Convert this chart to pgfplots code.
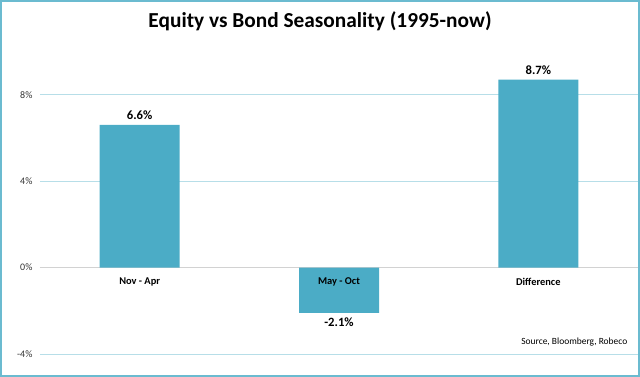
\documentclass[border=0pt]{standalone}
\usepackage{pgfplots}
\pgfplotsset{compat=1.18}
\usepackage{fontspec}
\setmainfont{Carlito}
\definecolor{barc}{HTML}{4BACC6}
\definecolor{gridc}{HTML}{B7DEE8}
\definecolor{framec}{HTML}{6BBBD0}
\begin{document}
\begin{tikzpicture}
\useasboundingbox (0pt,0pt) rectangle (480pt,282.75pt);
\draw[framec,line width=1.2pt] (0.6pt,0.6pt) rectangle (479.4pt,282.15pt);
\node[font=\bfseries\fontsize{16}{18}\selectfont] at (240pt,266.5pt) {Equity vs Bond Seasonality (1995-now)};
\begin{axis}[
  at={(30pt,17.25pt)}, anchor=south west,
  scale only axis, width=448.5pt, height=226.9pt,
  ymin=-4, ymax=10, xmin=-0.5, xmax=2.5,
  ybar, bar width=60pt,
  axis x line=middle, axis y line=left,
  x axis line style={draw=gray!35, line width=0.6pt, -},
  y axis line style={draw=none},
  xtick={0,1,2},
  xticklabels={},
  major x tick style={draw=none},
  extra x ticks={-0.5,0.5,1.5,2.5},
  extra x tick labels={},
  extra x tick style={tick style={draw=gray!40,line width=0.6pt}, major tick length=3pt, tick align=outside, grid=none},
  ytick={-4,0,4,8},
  yticklabels={-4\%,0\%,4\%,8\%},
  y tick label style={font=\fontsize{7.5}{9}\selectfont, text=black!80},
  major y tick style={draw=none},
  ymajorgrids, grid style={gridc, line width=0.6pt},
  /pgf/number format/assume math mode=true,
  nodes near coords={\pgfmathprintnumber[fixed,precision=1,fixed zerofill]{\pgfplotspointmeta}\%},
  every node near coord/.append style={font=\bfseries\fontsize{9.5}{11}\selectfont, inner sep=3.5pt},
  clip=false,
]
\addplot[fill=barc, draw=none] coordinates {(0,6.6) (1,-2.1) (2,8.7)};
\node[font=\bfseries\fontsize{7.8}{9}\selectfont] at (axis cs:0,-0.65) {Nov - Apr};
\node[font=\bfseries\fontsize{7.8}{9}\selectfont] at (axis cs:1,-0.65) {May - Oct};
\node[font=\bfseries\fontsize{7.8}{9}\selectfont] at (axis cs:2,-0.65) {Difference};
\node[font=\fontsize{7.1}{8}\selectfont, anchor=east] at (axis cs:2.47,-3.45) {Source, Bloomberg, Robeco};
\end{axis}
\end{tikzpicture}
\end{document}
